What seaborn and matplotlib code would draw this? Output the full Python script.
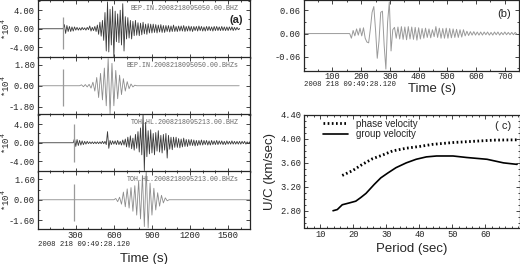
import numpy as np
import pandas as pd
import seaborn as sns
import matplotlib.pyplot as plt
from matplotlib.ticker import MultipleLocator

sns.set_style("ticks")
plt.rcParams['font.family'] = ['Liberation Sans', 'DejaVu Sans']

# ---- panel (a): four traces (units of 1e4) ----
trace_names = ['BEP.IN.2008218095050.00.BHZ', 'BEP.IN.2008218095050.00.BHZs',
               'TOH.HL.2008218095213.00.BHZ', 'TOH.HL.2008218095213.00.BHZs']
trace_start = [200, 330, 280, 600]      # s, first listed sample
trace_step = [10, 15, 10, 15]           # s between listed peaks
trace_end = [1587, 1587, 1670, 1670]    # s, where the record stops
trace_ylim = [6.2, 2.44, 6.2, 2.25]
trace_ticks = [4.0, 1.8, 4.0, 1.6]

bep_obs = [0.0, 0.9, -1.0, 0.7, -0.6, 0.5, -0.6, 0.4, -0.5, 0.4, -0.3,
           0.3, -0.3, 0.2, -0.3, 0.3, -0.2, 0.2, -0.3, 0.3, -0.2,
           0.6, -0.5, 0.3, -0.4, 0.5, -0.6, 0.8, -1.2, 1.4, -1.6,
           1.8, -2.5, 3.5, -4.8, 5.8, -5.0, 4.2, -3.5, 4.8, -6.2,
           3.8, -2.8, 3.2, -3.0, 4.0, -3.5, 5.4, -4.8, 2.6, -2.2,
           2.4, -2.0, 1.8, -2.2, 1.6, -1.5, 1.8, -1.4, 1.3, -1.5,
           1.2, -1.3, 1.4, -1.1, 1.0, -1.2, 1.1, -0.9, 1.0, -0.9,
           1.0, -0.8, 0.9, -0.9, 0.8, -0.7, 0.9, -0.8, 0.7, -0.8,
           0.7, -0.6, 0.7, -0.7, 0.6, -0.6, 0.8, -0.6, 0.5, -0.6,
           0.6, -0.5, 0.6, -0.5, 0.7, -0.6, 0.5, -0.5, 0.6, -0.5,
           0.5, -0.6, 0.5, -0.4, 0.5, -0.5, 0.6, -0.4, 0.5, -0.5,
           0.4, -0.5, 0.5, -0.4, 0.5, -0.4, 0.4, -0.5, 0.5, -0.4,
           0.5, -0.4, 0.4, -0.4, 0.5, -0.4, 0.4, -0.4, 0.4, -0.4,
           0.4, -0.3, 0.4, -0.4, 0.3, -0.3, 0.3, -0.2, 0.0]
bep_syn = [0.0, 0.08, -0.08, 0.1, -0.1, 0.12, -0.2, 0.3, -0.45, 0.7,
           -1.0, 1.05, -1.2, 1.5, -1.7, 2.3, -2.4, 1.9, -1.7, 1.3,
           -1.1, 0.9, -0.75, 0.6, -0.45, 0.35, -0.25, 0.15, -0.1, 0.05, 0.0]
toh_obs = [0.0, 0.9, -0.8, 0.7, -0.6, 0.5, -0.5, 0.4, -0.4, 0.3, -0.3,
           0.3, -0.2, 0.2, -0.2, 0.2, -0.2, 0.2, -0.2, 0.2, -0.2,
           0.2, -0.2, 0.3, -0.2, 0.3, -0.4, 2.4, -1.2, 0.5, -0.4,
           0.4, -0.3, 0.4, -0.4, 0.5, -0.4, 0.3, -0.5, 0.6, -0.5,
           0.8, -0.9, 1.2, -1.0, 1.5, -1.3, 1.0, -1.6, 1.8, -1.2,
           2.4, -2.0, 3.2, -2.6, 6.2, -6.0, 4.4, -3.0, 2.6, -2.4,
           2.8, -2.2, 2.0, -2.6, 2.2, -1.8, 2.6, -2.0, 1.6, -2.2,
           1.8, -1.6, 2.0, -3.3, 1.6, -1.4, 1.2, -1.5, 1.2, -1.0,
           1.2, -1.0, 0.9, -1.1, 0.8, -0.9, 1.0, -0.8, 0.7, -0.8,
           0.7, -0.6, 0.7, -0.6, 0.6, -0.7, 0.5, -0.6, 0.5, -0.5,
           0.6, -0.5, 0.5, -0.4, 0.5, -0.5, 0.4, -0.5, 0.5, -0.4,
           0.4, -0.4, 0.5, -0.4, 0.4, -0.3, 0.4, -0.4, 0.3, -0.4,
           0.4, -0.3, 0.3, -0.3, 0.4, -0.3, 0.3, -0.3, 0.3, -0.3,
           0.3, -0.3, 0.3, -0.2, 0.3, -0.3, 0.2, -0.2, 0.2, -0.2]
toh_syn = [0.0, 0.1, -0.15, 0.2, -0.35, 0.6, -0.55, 0.85, -0.65, 0.95,
           -0.9, 1.1, -1.2, 1.5, -1.5, 1.9, -2.1, 2.4, -2.2, 1.3,
           -1.2, 0.9, -0.8, 0.55, -0.5, 0.35, -0.25, 0.15, -0.08, 0.0]
trace_values = [bep_obs, bep_syn, toh_obs, toh_syn]
trace_colors = ['#3a3a3a', '#8c8c8c', '#3a3a3a', '#8c8c8c']

# pick markers (time, low, high)
pick_t = [200, 200, 283, 283]
pick_lo = [-4.4, -1.74, -4.2, -1.64]
pick_hi = [2.6, 1.4, 4.0, 1.22]

# ---- panel (b): filtered trace ----
b_start, b_step = 160, 6
b_values = [0.0, -0.012, 0.008, -0.006, 0.012, -0.004, 0.014, -0.006, 0.015, -0.012,
            -0.022, -0.024, 0.012, 0.055, 0.070, 0.010, -0.064, -0.020, 0.055, 0.058,
            -0.030, -0.092, 0.030, 0.082, -0.045, 0.010, 0.016, -0.012, 0.017, -0.014,
            0.018, -0.015, 0.017, -0.016, 0.018, -0.014, 0.017, -0.015, 0.016, -0.017,
            0.015, -0.014, 0.013, -0.012, 0.014, -0.010, 0.012, -0.011, 0.010, -0.008,
            0.018, -0.010, 0.014, -0.012, 0.013, -0.012, 0.014, -0.012, 0.013, -0.011,
            0.012, -0.010, 0.011, -0.010, 0.010, -0.009, 0.010, -0.006, 0.006, -0.005,
            0.005, -0.004, 0.005, -0.004, 0.004, -0.004, 0.004, -0.004, 0.004, -0.003,
            0.004, -0.004, 0.003, -0.004, 0.004, -0.003, 0.004, -0.004, 0.003, -0.003,
            0.004, -0.003, 0.003, -0.003, 0.003, -0.003, 0.003, -0.002]

# ---- panel (c): dispersion curves ----
group_period = [13.8, 15.1, 16.6, 18.7, 20.7, 22.2, 23.8, 26.3, 28.3, 30.4,
                32.9, 36.0, 39.0, 42.1, 45.2, 50.2, 54.3, 60.5, 65.5, 69.6]
group_vel = [2.80, 2.82, 2.90, 2.93, 2.96, 3.02, 3.09, 3.24, 3.35, 3.43,
             3.52, 3.60, 3.66, 3.70, 3.715, 3.715, 3.69, 3.66, 3.60, 3.575]
phase_period = [16.6, 19.7, 22.7, 25.8, 28.8, 31.9, 36.0, 40.1, 44.1, 50.2, 56.3, 62.5, 69.6]
phase_vel = [3.39, 3.47, 3.575, 3.67, 3.73, 3.80, 3.845, 3.875, 3.91, 3.94, 3.96, 3.98, 3.985]

W, H = 520, 264
fig = plt.figure(figsize=(W / 100, H / 100), dpi=100)


def px_axes(left, top, width, height):
    return fig.add_axes([left / W, 1 - (top + height) / H, width / W, height / H])


mono = 'Liberation Mono'


def style_axes(ax):
    ax.tick_params(which='both', direction='in', top=True, right=True,
                   labelsize=6.3, width=0.6, pad=2)
    ax.tick_params(which='major', length=3)
    ax.tick_params(which='minor', length=1.5)
    for lab in ax.get_xticklabels() + ax.get_yticklabels():
        lab.set_family(mono)
    for sp in ax.spines.values():
        sp.set_linewidth(0.9)


row_tops = [0, 57, 114, 171]
for i in range(4):
    ax = px_axes(37.7, row_tops[i], 212, 57.5)
    vals = trace_values[i]
    t = trace_start[i] + trace_step[i] * np.arange(len(vals))
    df = pd.DataFrame({'t': np.r_[0, t, trace_end[i]], 'a': np.r_[0, vals, 0]})
    sns.lineplot(data=df, x='t', y='a', ax=ax, color=trace_colors[i], lw=0.6,
                 estimator=None, sort=False)
    ax.vlines(pick_t[i], pick_lo[i], pick_hi[i], color='#9a9a9a', lw=0.9)
    ax.set_xlim(0, 1670)
    ax.set_ylim(-trace_ylim[i], trace_ylim[i])
    ax.set_yticks([-trace_ticks[i], 0, trace_ticks[i]])
    ax.yaxis.set_minor_locator(MultipleLocator(trace_ticks[i] / 2))
    ax.xaxis.set_major_locator(MultipleLocator(300))
    ax.xaxis.set_minor_locator(MultipleLocator(100))
    ax.yaxis.set_major_formatter(lambda v, p: f'{v:.2f}')
    style_axes(ax)
    ax.set_ylabel(r'*10$^4$', family=mono, fontsize=6.5, labelpad=1)
    ax.yaxis.set_label_coords(-0.122, 0.5)
    ax.set_xlabel('')
    ax.text(0.948, 0.92, trace_names[i], transform=ax.transAxes, ha='right', va='top',
            family=mono, fontsize=4.8, color='#666666')
    if i < 3:
        ax.tick_params(labelbottom=False)
    if i == 0:
        ax.text(0.968, 0.66, '(a)', transform=ax.transAxes, ha='right', va='center',
                fontsize=8, fontweight='bold')
    if i == 3:
        ax.set_xticks([300, 600, 900, 1200, 1500])
        ax.set_xlabel('Time (s)', fontsize=9.5, labelpad=9)
        ax.text(0.0, -0.27, '2008 218 09:49:28.120', transform=ax.transAxes,
                family=mono, fontsize=5.2, ha='left', va='center')

# panel (b)
axb = px_axes(303.7, 0, 215.5, 71)
tb = b_start + b_step * np.arange(len(b_values))
dfb = pd.DataFrame({'t': np.r_[0, tb], 'a': np.r_[0, b_values]})
sns.lineplot(data=dfb, x='t', y='a', ax=axb, color='#9a9a9a', lw=0.7,
             estimator=None, sort=False)
axb.set_xlim(0, 750)
axb.set_ylim(-0.097, 0.087)
axb.set_yticks([-0.06, 0, 0.06])
axb.yaxis.set_minor_locator(MultipleLocator(0.03))
axb.set_xticks([100, 200, 300, 400, 500, 600, 700])
axb.xaxis.set_minor_locator(MultipleLocator(50))
axb.yaxis.set_major_formatter(lambda v, p: f'{v:.2f}')
style_axes(axb)
axb.tick_params(axis='x', pad=1)
axb.set_ylabel('')
axb.set_xlabel('Time (s)', fontsize=9.5, labelpad=0)
axb.xaxis.set_label_coords(0.594, -0.17)
axb.text(0.0, -0.19, '2008 218 09:49:28.120', transform=axb.transAxes,
         family=mono, fontsize=5.2, ha='left', va='center')
axb.text(0.96, 0.8, '(b)', transform=axb.transAxes, ha='right', va='center', fontsize=8)

# panel (c)
axc = px_axes(304, 115, 216, 112.5)
sns.lineplot(x=phase_period, y=phase_vel, ax=axc, color='black', lw=2,
             linestyle=(0, (0.6, 0.9)), estimator=None, sort=False, label='phase velocity')
sns.lineplot(x=group_period, y=group_vel, ax=axc, color='black', lw=1.2,
             estimator=None, sort=False, label='group velocity')
axc.set_xlim(5, 70.5)
axc.set_ylim(2.52, 4.40)
axc.set_yticks([2.8, 3.2, 3.6, 4.0, 4.4])
axc.yaxis.set_minor_locator(MultipleLocator(0.1))
axc.set_xticks([10, 20, 30, 40, 50, 60])
axc.xaxis.set_minor_locator(MultipleLocator(2))
axc.yaxis.set_major_formatter(lambda v, p: f'{v:.2f}')
style_axes(axc)
axc.set_xlabel('Period (sec)', fontsize=9.5, labelpad=3)
axc.set_ylabel('U/C (km/sec)', fontsize=9.5, labelpad=3)
axc.legend(loc='upper left', bbox_to_anchor=(0.068, 1.0), frameon=False, fontsize=7,
           handlelength=2.6, borderaxespad=0, labelspacing=0.05, handletextpad=0.86)
axc.text(0.96, 0.9, '( c)', transform=axc.transAxes, ha='right', va='center', fontsize=8)

fig.savefig('out.png', dpi=100)
